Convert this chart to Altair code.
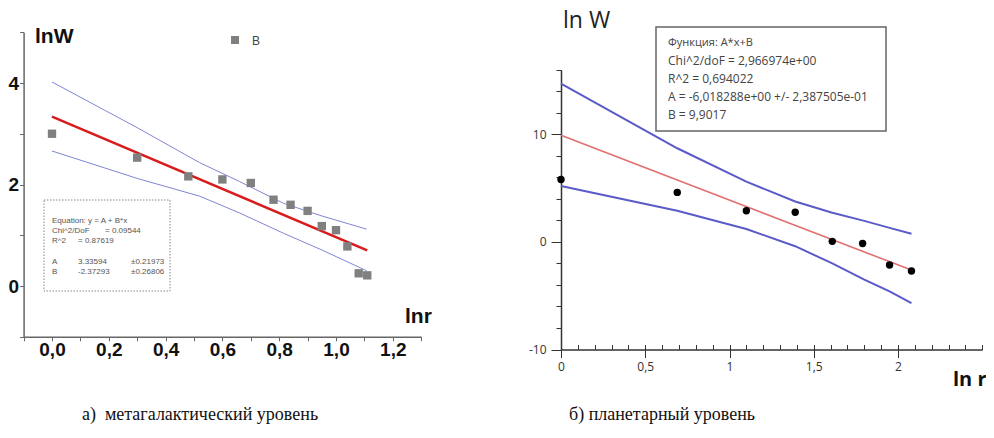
import altair as alt
import pandas as pd

# ---------------- data: panel (a) metagalactic level ----------------
a_x = [0.0, 0.30, 0.48, 0.60, 0.70, 0.78, 0.84, 0.90, 0.95, 1.00, 1.04, 1.08, 1.11]
a_y = [3.00, 2.53, 2.16, 2.10, 2.03, 1.70, 1.60, 1.48, 1.18, 1.10, 0.78, 0.25, 0.21]
a_fit_x = [0.0, 1.11]
a_fit_y = [3.336, 0.702]
a_band_x = [0.0, 0.30, 0.52, 0.66, 0.815, 0.95, 1.108]
a_upper = [4.02, 3.12, 2.43, 2.06, 1.63, 1.38, 1.12]
a_lower = [2.66, 2.12, 1.77, 1.44, 1.04, 0.71, 0.30]
a_xticks = [-0.1, 0.0, 0.1, 0.2, 0.3, 0.4, 0.5, 0.6, 0.7, 0.8, 0.9, 1.0, 1.1, 1.2, 1.3]
a_yticks = [-1, 0, 1, 2, 3, 4, 5]

# ---------------- data: panel (b) planetary level ----------------
b_x = [0.0, 0.69, 1.10, 1.39, 1.61, 1.79, 1.95, 2.08]
b_y = [5.8, 4.6, 2.9, 2.75, 0.05, -0.15, -2.15, -2.7]
b_fit_x = [0.0, 2.08]
b_fit_y = [9.90, -2.62]
b_band_x = [0.0, 0.69, 1.10, 1.39, 1.61, 1.80, 1.95, 2.08]
b_upper = [14.7, 8.7, 5.6, 3.75, 2.7, 1.95, 1.3, 0.75]
b_lower = [5.2, 2.9, 1.2, -0.4, -2.0, -3.5, -4.6, -5.7]
b_yticks = [-10, -8, -6, -4, -2, 0, 2, 4, 6, 8, 10, 12, 14, 16]
b_xmajor = [0, 0.5, 1, 1.5, 2]
b_xminor = [0.0, 0.1, 0.2, 0.3, 0.4, 0.5, 0.6, 0.7, 0.8, 0.9, 1.0, 1.1, 1.2, 1.3,
            1.4, 1.5, 1.6, 1.7, 1.8, 1.9, 2.0, 2.1, 2.2, 2.3, 2.4, 2.5]

# ---------------- layout (view pixels) ----------------
W, H = 978, 422
AX_RANGE = [15.6, 413.2]
AY_RANGE = [328.75, 24.25]
BX_RANGE = [553.0, 974.25]
BY_RANGE = [341.5, 61.7]

df_a = pd.DataFrame({"x": a_x, "y": a_y})
df_afit = pd.DataFrame({"x": a_fit_x, "y": a_fit_y})
df_aup = pd.DataFrame({"x": a_band_x, "y": a_upper})
df_alo = pd.DataFrame({"x": a_band_x, "y": a_lower})
df_b = pd.DataFrame({"x": b_x, "y": b_y})
df_bfit = pd.DataFrame({"x": b_fit_x, "y": b_fit_y})
df_bup = pd.DataFrame({"x": b_band_x, "y": b_upper})
df_blo = pd.DataFrame({"x": b_band_x, "y": b_lower})

# ---------------- panel (a) ----------------
ax_scale = alt.Scale(domain=[-0.1, 1.3], range=AX_RANGE, nice=False, zero=False)
ay_scale = alt.Scale(domain=[-1, 5], range=AY_RANGE, nice=False, zero=False)
AX = alt.X("x:Q", scale=ax_scale, axis=alt.Axis(
    orient="bottom", offset=AY_RANGE[0] - H, values=a_xticks, title=None,
    labelExpr="(abs(round(datum.value*10)) % 2 == 0 && datum.value > -0.05 && datum.value < 1.25) ? replace(format(datum.value, '.1f'), '.', ',') : ''",
    labelFont="Liberation Sans", labelFontWeight="bold", labelFontSize=19, labelColor="#111",
    labelPadding=0, tickSize=4, tickColor="#666", domainColor="#666", domainWidth=1.5,
    labelOverlap=False, labelFlush=False, grid=False))
AY = alt.Y("y:Q", scale=ay_scale, axis=alt.Axis(
    orient="left", offset=-AX_RANGE[0], values=a_yticks, title=None,
    labelExpr="(datum.value % 2 == 0 && datum.value >= 0) ? '' + datum.value : ''",
    labelFont="Liberation Sans", labelFontWeight="bold", labelFontSize=19, labelColor="#111",
    labelPadding=1, tickSize=4, tickColor="#666", domainColor="#666", domainWidth=1.5,
    labelOverlap=False, labelFlush=False, grid=False))

a_up = alt.Chart(df_aup).mark_line(color="#8086d2", strokeWidth=1).encode(x=AX, y=AY)
a_lo = alt.Chart(df_alo).mark_line(color="#8086d2", strokeWidth=1).encode(x=AX, y=AY)
a_fit = alt.Chart(df_afit).mark_line(color="#d81c1c", strokeWidth=2.5).encode(x=AX, y=AY)
a_pts = alt.Chart(df_a).mark_square(size=70, color="#808080", opacity=1).encode(x=AX, y=AY)
panel_a = alt.layer(a_up, a_lo, a_fit, a_pts)

# ---------------- panel (b) ----------------
bx_scale = alt.Scale(domain=[0, 2.5], range=BX_RANGE, nice=False, zero=False)
by_scale = alt.Scale(domain=[-10, 16], range=BY_RANGE, nice=False, zero=False)
BX = alt.X("x:Q", scale=bx_scale, axis=alt.Axis(
    orient="bottom", offset=BY_RANGE[0] - H, values=b_xmajor, title=None,
    labelExpr="replace('' + datum.value, '.', ',')",
    labelFont="Open Sans", labelFontSize=12, labelColor="#333",
    labelPadding=4, tickSize=8, tickColor="#333", domainColor="#333", domainWidth=1.5,
    labelOverlap=False, labelFlush=False, grid=False))
BY = alt.Y("y:Q", scale=by_scale, axis=alt.Axis(
    orient="left", offset=-BX_RANGE[0], values=b_yticks, title=None,
    labelExpr="datum.value % 10 === 0 ? '' + datum.value : ''",
    labelFont="Open Sans", labelFontSize=12, labelColor="#333",
    labelPadding=5, tickSize={"condition": {"test": "datum.value % 10 === 0", "value": 10}, "value": 5},
    tickColor="#333", domainColor="#333", domainWidth=1.5,
    labelOverlap=False, labelFlush=False, grid=False))

b_up = alt.Chart(df_bup).mark_line(color="#5a5ac8", strokeWidth=2).encode(x=BX, y=BY)
b_lo = alt.Chart(df_blo).mark_line(color="#5a5ac8", strokeWidth=2).encode(x=BX, y=BY)
b_fit = alt.Chart(df_bfit).mark_line(color="#e07070", strokeWidth=1.6).encode(x=BX, y=BY)
b_pts = alt.Chart(df_b).mark_circle(size=55, color="#000", opacity=1).encode(x=BX, y=BY)
panel_b = alt.layer(b_up, b_lo, b_fit, b_pts)

# minor ticks on top side of right x axis (pointing up)
BX_minor = alt.X("x:Q", scale=alt.Scale(domain=[0, 2.5], range=BX_RANGE, nice=False, zero=False),
                 axis=alt.Axis(orient="top", offset=-BY_RANGE[0], values=b_xminor, title=None,
                               labels=False, domain=False, tickSize=5, tickColor="#333", grid=False))
BY_hidden = alt.Y("y:Q", scale=alt.Scale(domain=[-10, 16], range=BY_RANGE, nice=False, zero=False), axis=None)
b_minor = alt.Chart(df_b).mark_circle(opacity=0).encode(x=BX_minor, y=BY_hidden)

# ---------------- annotations ----------------
one = pd.DataFrame({"k": [0]})


def txt(text, x, y, size, font="Liberation Sans", weight="normal", color="#111", align="left", baseline="alphabetic", lh=None):
    kw = dict(text=text, fontSize=size, font=font, fontWeight=weight, color=color, align=align, baseline=baseline)
    if lh is not None:
        kw["lineHeight"] = lh
    return alt.Chart(one).mark_text(**kw).encode(x=alt.value(x), y=alt.value(y))


def box(x1, y1, x2, y2, stroke, sw, dash=None, fill="white"):
    kw = dict(stroke=stroke, strokeWidth=sw, fill=fill)
    if dash is not None:
        kw["strokeDash"] = dash
    return alt.Chart(one).mark_rect(**kw).encode(
        x=alt.value(x1), x2=alt.value(x2), y=alt.value(y1), y2=alt.value(y2))


ann = [
    # panel a
    txt("lnW", 27, 35, 21, weight="bold"),
    txt("lnr", 397, 315, 21, weight="bold"),
    alt.Chart(one).mark_square(size=64, color="#808080", opacity=1).encode(x=alt.value(227), y=alt.value(32)),
    txt("B", 244, 36.5, 12, color="#444"),
    box(36, 192, 162, 283, "#888", 1, dash=[1.5, 1.5], fill="transparent"),
    txt("Equation: y = A + B*x", 44, 215, 8, color="#555"),
    txt("Chi^2/DoF", 44, 225, 8, color="#555"),
    txt("= 0.09544", 97, 225, 8, color="#555"),
    txt("R^2", 44, 235, 8, color="#555"),
    txt("=  0.87619", 70, 235, 8, color="#555"),
    txt("A", 44, 256, 8, color="#555"),
    txt("3.33594", 70, 256, 8, color="#555"),
    txt("±0.21973", 123, 256, 8, color="#555"),
    txt("B", 44, 266, 8, color="#555"),
    txt("-2.37293", 70, 266, 8, color="#555"),
    txt("±0.26806", 123, 266, 8, color="#555"),
    # panel b
    txt("ln W", 555, 20, 23, font="Open Sans", color="#222"),
    txt("ln r", 945, 378, 20, font="Open Sans", weight="bold", color="#111"),
    box(648, 19, 878, 123, "#666", 1.5),
    txt("Функция: A*x+B", 660, 38, 11, font="Open Sans", color="#444"),
    txt("Chi^2/doF = 2,966974e+00", 660, 57, 12, font="Open Sans", color="#444"),
    txt("R^2 = 0,694022", 660, 75, 12, font="Open Sans", color="#444"),
    txt("A = -6,018288e+00 +/- 2,387505e-01", 660, 93, 12, font="Open Sans", color="#444"),
    txt("B = 9,9017", 660, 111, 12, font="Open Sans", color="#444"),
    # captions
    txt("а)\u00a0\u00a0метагалактический уровень", 192, 412, 18, font="Liberation Serif", color="#111", align="center"),
    txt("б) планетарный уровень", 654, 412, 18, font="Liberation Serif", color="#111", align="center"),
]

chart = alt.layer(panel_a, panel_b, b_minor, *ann).resolve_scale(
    x="independent", y="independent").resolve_axis(x="independent", y="independent").properties(
    width=W, height=H, padding=0, autosize=alt.AutoSizeParams(type="none"),
    background="white").configure_view(stroke=None)

chart.save("out.html", embed_options={"renderer": "svg", "actions": False})
